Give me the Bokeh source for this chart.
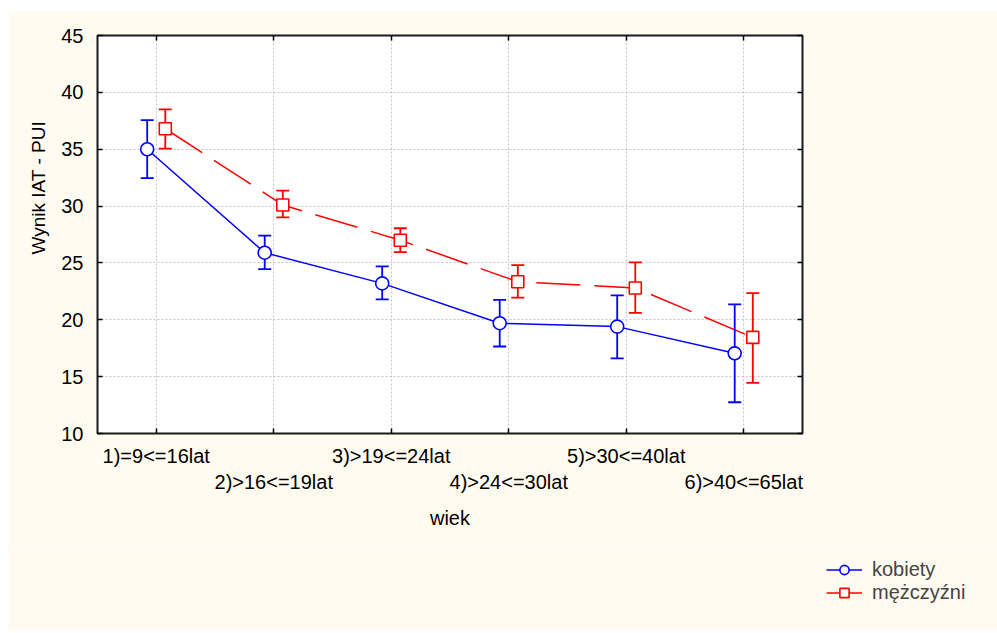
from bokeh.plotting import figure
from bokeh.layouts import column
from bokeh.models import (ColumnDataSource, FactorRange, CategoricalAxis, LinearAxis,
                          Legend, LegendItem, Title, Range1d, SingleIntervalTicker,
                          CustomJSTickFormatter)
from bokeh.transform import dodge
from bokeh.embed import file_html
from bokeh.resources import INLINE

# ---- data ----
categories = ["1)=9<=16lat", "2)>16<=19lat", "3)>19<=24lat",
              "4)>24<=30lat", "5)>30<=40lat", "6)>40<=65lat"]
kobiety_mean = [35.0, 25.9, 23.2, 19.7, 19.4, 17.05]
kobiety_lower = [32.45, 24.45, 21.8, 17.65, 16.6, 12.75]
kobiety_upper = [37.55, 27.4, 24.7, 21.75, 22.15, 21.35]
mezczyzni_mean = [36.8, 30.1, 27.0, 23.35, 22.8, 18.45]
mezczyzni_lower = [35.05, 29.0, 25.95, 21.95, 20.6, 14.45]
mezczyzni_upper = [38.5, 31.35, 28.05, 24.8, 25.05, 22.35]
y_ticks_interval = 5
series_names = ["kobiety", "mężczyźni"]
x_title = "wiek"
y_title = "Wynik IAT - PUI"

FONT = "Liberation Sans"
CREAM = "#fffbf0"
BLUE = "#0000ff"
RED = "#ff0000"

p = figure(width=989, height=540,
           x_range=FactorRange(factors=categories), y_range=Range1d(10, 45),
           output_backend="svg", toolbar_location=None,
           min_border_left=89, min_border_right=195,
           min_border_top=25, min_border_bottom=117)
p.frame_align = False
p.border_fill_color = CREAM
p.background_fill_color = "white"
p.outline_line_color = "#1a1a1a"
p.outline_line_width = 2

# grid
p.xgrid.grid_line_color = "#c4c4c4"
p.xgrid.grid_line_dash = "2 2"
p.ygrid.grid_line_color = "#c4c4c4"
p.ygrid.grid_line_dash = "2 2"
p.yaxis.ticker = SingleIntervalTicker(interval=y_ticks_interval)


def style_axis(ax):
    ax.axis_line_color = None
    ax.major_tick_in = 5
    ax.major_tick_out = 0
    ax.minor_tick_line_color = None
    ax.major_tick_line_color = "black"
    ax.major_tick_line_width = 1.5
    ax.major_label_text_font = FONT
    ax.major_label_text_font_size = "20px"
    ax.major_label_text_color = "black"


# y axis (left)
ya = p.yaxis[0]
style_axis(ya)
ya.major_label_standoff = 10

# x axis rows (alternating labels)
xa = p.xaxis[0]
style_axis(xa)
xa.major_label_standoff = 11
xa.formatter = CustomJSTickFormatter(code="return index % 2 == 0 ? tick : '';")

xa2 = CategoricalAxis(formatter=CustomJSTickFormatter(code="return index % 2 == 1 ? tick : '';"))
style_axis(xa2)
xa2.major_tick_line_color = None
xa2.major_label_standoff = 1
xa2.axis_label = x_title
xa2.axis_label_text_font = FONT
xa2.axis_label_text_font_size = "20px"
xa2.axis_label_text_font_style = "normal"
xa2.axis_label_text_color = "black"
xa2.axis_label_standoff = 11
p.add_layout(xa2, "below")

# top and right axes: ticks only
xt = CategoricalAxis(formatter=CustomJSTickFormatter(code="return '';"))
style_axis(xt)
xt.major_label_standoff = 0
p.add_layout(xt, "above")

yr = LinearAxis(ticker=SingleIntervalTicker(interval=y_ticks_interval),
                formatter=CustomJSTickFormatter(code="return '';"))
style_axis(yr)
yr.major_label_standoff = 0
p.add_layout(yr, "right")

# y axis title
yt = Title(text=y_title, align="left", offset=179, standoff=19,
           text_font=FONT, text_font_size="19px", text_font_style="normal",
           text_color="black")
p.add_layout(yt, "left")

# data sources
src_k = ColumnDataSource(dict(cat=categories, mean=kobiety_mean,
                              lower=kobiety_lower, upper=kobiety_upper))
src_m = ColumnDataSource(dict(cat=categories, mean=mezczyzni_mean,
                              lower=mezczyzni_lower, upper=mezczyzni_upper))

OFF = 0.077


def draw_series(fig, xrange_):
    xk = dodge("cat", -OFF, range=xrange_)
    xm = dodge("cat", OFF, range=xrange_)
    lk = fig.line(x=xk, y="mean", source=src_k, line_color=BLUE, line_width=1.5)
    lm = fig.line(x=xm, y="mean", source=src_m, line_color=RED, line_width=1.5,
                  line_dash="44 14")
    for src, x, col in ((src_k, xk, BLUE), (src_m, xm, RED)):
        fig.segment(x0=x, y0="lower", x1=x, y1="upper", source=src,
                    line_color=col, line_width=1.8)
        fig.scatter(x=x, y="upper", source=src, marker="dash", size=13,
                    line_color=col, line_width=1.8)
        fig.scatter(x=x, y="lower", source=src, marker="dash", size=13,
                    line_color=col, line_width=1.8)
    mk = fig.scatter(x=xk, y="mean", source=src_k, marker="circle", size=13,
                     fill_color="white", line_color=BLUE, line_width=1.6)
    mm = fig.scatter(x=xm, y="mean", source=src_m, marker="square", size=12,
                     fill_color="white", line_color=RED, line_width=1.6)
    return lk, mk, lm, mm


draw_series(p, p.x_range)

# ---- legend strip (separate figure below, its data lie outside its view) ----
lf = figure(width=989, height=81,
            x_range=FactorRange(factors=categories), y_range=Range1d(-2, -1),
            output_backend="svg", toolbar_location=None,
            x_axis_type=None, y_axis_type=None,
            min_border_left=818, min_border_right=0,
            min_border_top=8, min_border_bottom=0)
lf.frame_align = False
lf.border_fill_color = CREAM
lf.background_fill_color = CREAM
lf.outline_line_color = None
lf.grid.visible = False
lk, mk, lm, mm = draw_series(lf, lf.x_range)

legend = Legend(items=[LegendItem(label=series_names[0], renderers=[lk, mk]),
                       LegendItem(label=series_names[1], renderers=[lm, mm])],
                location="top_left")
legend.background_fill_alpha = 0
legend.border_line_color = None
legend.padding = 0
legend.margin = 0
legend.spacing = 0
legend.glyph_width = 36
legend.glyph_height = 23
legend.label_standoff = 10
legend.label_text_font = FONT
legend.label_text_font_size = "20px"
legend.label_text_baseline = "middle"
lf.add_layout(legend, "center")

layout = column(p, lf, spacing=0, margin=(10, 0, 0, 8))

open("out.html", "w").write(file_html(layout, INLINE))
